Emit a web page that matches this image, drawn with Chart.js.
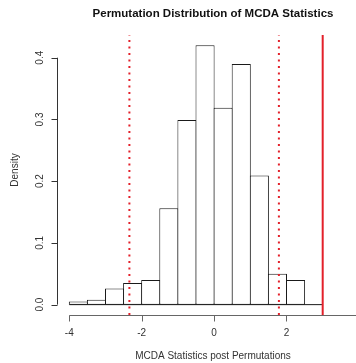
<!DOCTYPE html>
<html>
<head>
<meta charset="utf-8">
<script src="https://cdn.jsdelivr.net/npm/chart.js@4"></script>
<style>
  body { margin: 0; background: #fff; }
</style>
</head>
<body>
<canvas id="histChart" width="356" height="363"></canvas>
<script>
// histogram bins (width 0.5)
const binMids = [-3.75, -3.25, -2.75, -2.25, -1.75, -1.25, -0.75, -0.25, 0.25, 0.75, 1.25, 1.75, 2.25];
const density = [0.005, 0.008, 0.026, 0.035, 0.040, 0.156, 0.299, 0.420, 0.319, 0.390, 0.209, 0.050, 0.040];

// dotted red lines (quantiles) and solid red line (observed statistic)
const ciBounds = [-2.34, 1.79];
const observedStat = [3.0];
const baseLine = [-4, 3];

const xTicks = [-4, -2, 0, 2, 4];
const yTicks = [0.0, 0.1, 0.2, 0.3, 0.4];
const yTickLabels = ['0.0', '0.1', '0.2', '0.3', '0.4'];

const titleText = 'Permutation Distribution of MCDA Statistics';
const xTitle = 'MCDA Statistics post Permutations';
const yTitle = 'Density';

// plot region limits (R adds 4% on each side)
const xMin = -4.34, xMax = 3.92;
const yMin = -0.0168, yMax = 0.4368;

function vLine(v) {
    return [{ x: v, y: yMin }, { x: v, y: yMax }];
}

const datasets = [];
datasets.push({
    type: 'bar',
    data: binMids.map((m, i) => ({ x: m, y: density[i] })),
    backgroundColor: '#ffffff',
    borderColor: '#1a1a1a',
    borderWidth: 1,
    borderSkipped: false,
    barPercentage: 1.055,
    categoryPercentage: 1,
    order: 3
});
datasets.push({
    type: 'line',
    data: baseLine.map(v => ({ x: v, y: 0 })),
    borderColor: '#1a1a1a',
    borderWidth: 1,
    pointRadius: 0,
    order: 2
});
ciBounds.forEach(function(v) {
    datasets.push({
        type: 'line',
        data: vLine(v),
        borderColor: '#e3202a',
        borderWidth: 2,
        borderDash: [2, 4.5],
        pointRadius: 0,
        order: 1
    });
});
observedStat.forEach(function(v) {
    datasets.push({
        type: 'line',
        data: vLine(v),
        borderColor: '#e3202a',
        borderWidth: 2,
        pointRadius: 0,
        order: 1
    });
});

// R style axes, labels and title
const rAxes = {
    id: 'rAxes',
    afterDraw(chart) {
        const ctx = chart.ctx;
        const xs = chart.scales.x, ys = chart.scales.y, area = chart.chartArea;
        ctx.save();
        ctx.lineWidth = 1;

        // x axis
        ctx.strokeStyle = '#666';
        const axY = Math.round(area.bottom) + 0.5;
        ctx.beginPath();
        ctx.moveTo(xs.getPixelForValue(xTicks[0]), axY);
        ctx.lineTo(xs.getPixelForValue(xTicks[xTicks.length - 1]), axY);
        xTicks.forEach(function(v) {
            const px = Math.round(xs.getPixelForValue(v)) + 0.5;
            ctx.moveTo(px, axY);
            ctx.lineTo(px, axY + 6);
        });
        ctx.stroke();

        // y axis
        ctx.strokeStyle = '#333';
        const axX = Math.round(area.left) + 0.5;
        ctx.beginPath();
        ctx.moveTo(axX, ys.getPixelForValue(yTicks[0]));
        ctx.lineTo(axX, ys.getPixelForValue(yTicks[yTicks.length - 1]));
        yTicks.forEach(function(v) {
            const py = Math.round(ys.getPixelForValue(v)) + 0.5;
            ctx.moveTo(axX, py);
            ctx.lineTo(axX - 6, py);
        });
        ctx.stroke();

        ctx.fillStyle = '#333';
        ctx.textAlign = 'center';
        ctx.textBaseline = 'middle';
        ctx.font = '10px "Liberation Sans", Arial, sans-serif';
        xTicks.forEach(function(v) {
            ctx.fillText(String(v), xs.getPixelForValue(v), 333);
        });
        yTicks.forEach(function(v, i) {
            ctx.save();
            ctx.translate(40, ys.getPixelForValue(v));
            ctx.rotate(-Math.PI / 2);
            ctx.fillText(yTickLabels[i], 0, 0);
            ctx.restore();
        });

        ctx.fillText(xTitle, 213, 356);
        ctx.save();
        ctx.translate(15, 170);
        ctx.rotate(-Math.PI / 2);
        ctx.fillText(yTitle, 0, 0);
        ctx.restore();

        ctx.fillStyle = '#111';
        ctx.font = 'bold 11.5px "Liberation Sans", Arial, sans-serif';
        ctx.fillText(titleText, 213, 14);
        ctx.restore();
    }
};

const histChart = new Chart(document.getElementById('histChart'), {
    type: 'bar',
    data: { datasets: datasets },
    options: {
        responsive: false,
        animation: false,
        layout: { padding: { left: 57, right: 0, top: 35, bottom: 48 } },
        plugins: { legend: { display: false }, tooltip: { enabled: false } },
        scales: {
            x: {
                type: 'linear',
                display: false,
                offset: false,
                min: xMin,
                max: xMax,
                afterBuildTicks: function(scale) {
                    scale.ticks = xTicks.map(v => ({ value: v }));
                }
            },
            y: {
                type: 'linear',
                display: false,
                min: yMin,
                max: yMax
            }
        }
    },
    plugins: [rAxes]
});
</script>
</body>
</html>
